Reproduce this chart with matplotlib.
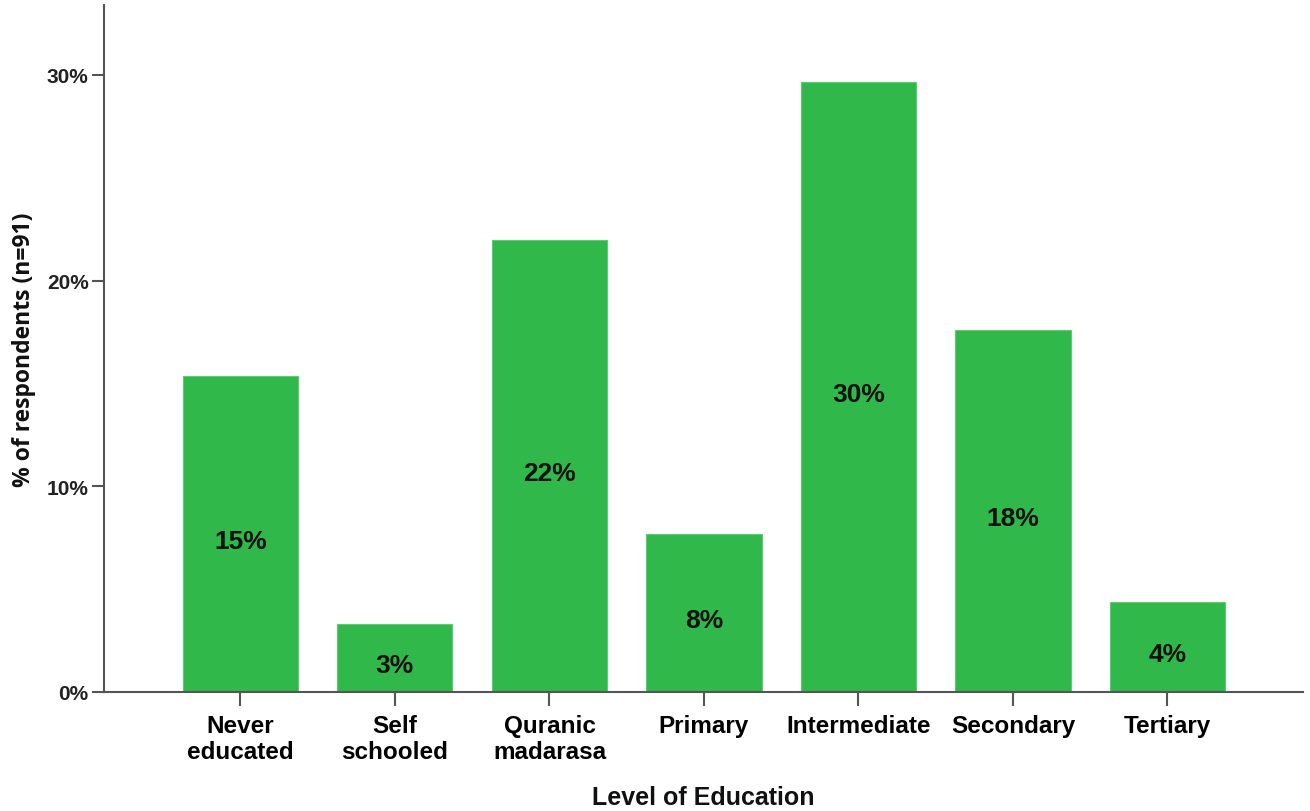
import matplotlib
matplotlib.use("Agg")
import matplotlib.pyplot as plt
from matplotlib.ticker import FuncFormatter

categories = ["Never\neducated", "Self\nschooled", "Quranic\nmadarasa", "Primary",
              "Intermediate", "Secondary", "Tertiary"]
counts = [14, 3, 20, 7, 27, 16, 4]
n_total = 91
percents = [c / n_total * 100 for c in counts]
bar_labels = ["15%", "3%", "22%", "8%", "30%", "18%", "4%"]
yticks = [0, 10, 20, 30]

fig = plt.figure(figsize=(13.1, 8.12), dpi=100)
ax = fig.add_axes([104/1310, 119/812, (1303-104)/1310, (690-3)/812])

x = list(range(len(categories)))
ax.bar(x, percents, width=0.745, color="#30b84b", edgecolor="#5ccc70", linewidth=0.8)

for xi, p, lab in zip(x, percents, bar_labels):
    ax.annotate(lab, (xi, p / 2), xytext=(0, -5), textcoords="offset points",
                ha="center", va="center", fontsize=19,
                fontweight="bold", family=["Liberation Sans", "DejaVu Sans"], color="#111111")

ax.set_xlim(-0.883, 6.877)
ax.set_ylim(0, 33.4)
ax.set_xticks(x)
ax.set_xticklabels(categories, fontsize=17.5, fontweight="bold",
                   family=["Liberation Sans", "DejaVu Sans"], linespacing=1.15)
ax.set_yticks(yticks)
ax.yaxis.set_major_formatter(FuncFormatter(lambda v, p: f"{int(v)}%"))
for t in ax.get_yticklabels():
    t.set_fontsize(15)
    t.set_fontweight("bold")
    t.set_family(["Liberation Sans Narrow", "Liberation Sans", "DejaVu Sans"])
    t.set_color("#222222")

ax.tick_params(axis="x", length=10, width=1.5, color="#555555", pad=6)
ax.tick_params(axis="y", length=9, width=1.5, color="#555555", pad=2)

for s in ["top", "right"]:
    ax.spines[s].set_visible(False)
for s in ["left", "bottom"]:
    ax.spines[s].set_color("#555555")
    ax.spines[s].set_linewidth(1.5)

ax.set_xlabel("Level of Education", fontsize=18, fontweight="bold",
              family=["Liberation Sans", "DejaVu Sans"], labelpad=16, color="#111111")
ax.set_ylabel("% of respondents (n=91)", fontsize=16.5, fontweight="bold",
              family=["Open Sans", "DejaVu Sans"], color="#111111")
ax.yaxis.set_label_coords(-0.057, 0.5)

fig.savefig("out.png", dpi=100)
